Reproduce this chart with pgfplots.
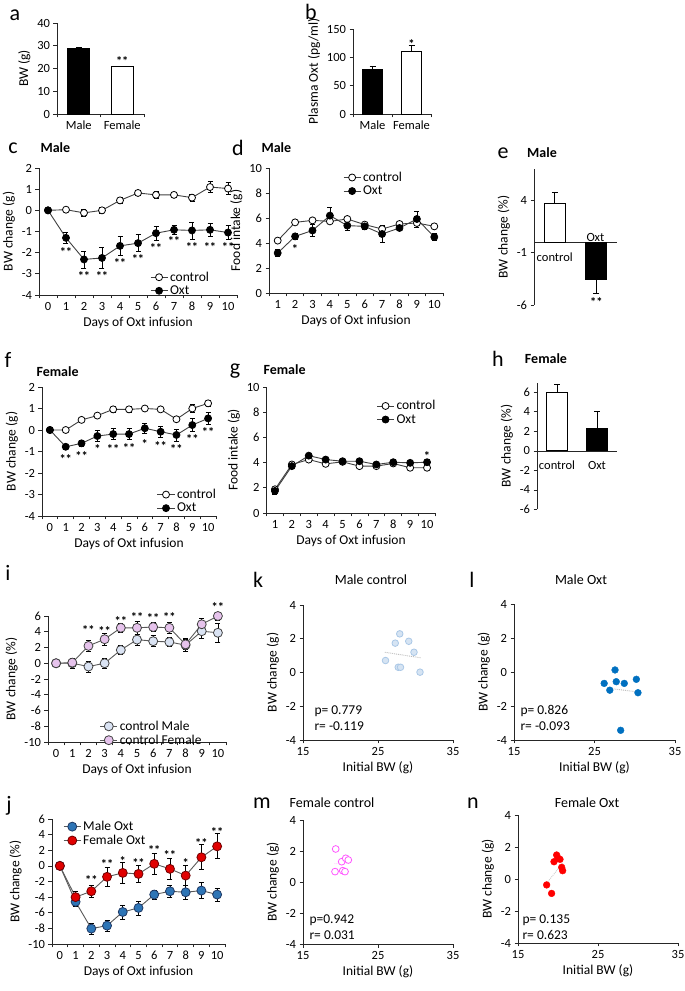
\documentclass[border=0pt]{standalone}
\usepackage{fontspec}
\setmainfont{Carlito}
\usepackage{pgfplots}
\pgfplotsset{compat=1.18}
\definecolor{axc}{HTML}{262626}
\definecolor{lc}{HTML}{404040}
\definecolor{lg}{HTML}{595959}
\definecolor{iM}{HTML}{DAE3F3}
\definecolor{iF}{HTML}{E6C3EC}
\definecolor{jM}{HTML}{2E75B6}
\definecolor{jMe}{HTML}{1F3864}
\definecolor{jF}{HTML}{E00000}
\definecolor{jFe}{HTML}{700000}
\definecolor{kF}{HTML}{D6E4F3}
\definecolor{kE}{HTML}{A9C7E6}
\definecolor{lB}{HTML}{0070C0}
\definecolor{mP}{HTML}{FF55FF}
\definecolor{nR}{HTML}{FF0000}
\newcommand\tks{\fontsize{12.5}{12.5}\selectfont}
\newcommand\lbs{\fontsize{13.5}{13.5}\selectfont}
\newcommand\sts{\fontsize{12.5}{12.5}\selectfont\bfseries}
\newcommand\ltr{\fontsize{22}{22}\selectfont}
\newcommand\ttl{\fontsize{14}{14}\selectfont}
\pgfplotsset{
 common/.style={scale only axis, anchor=south west, axis lines=left,
   axis line style={-, draw=axc, line width=0.7pt},
   tick style={draw=axc, line width=0.7pt}, tick align=outside,
   major tick length=3.5pt, minor tick length=3.5pt, enlargelimits=false, clip=false,
   tick label style={font=\tks}, label style={font=\lbs},
   /pgf/number format/assume math mode=true,
   legend style={draw=none, fill=none, font=\lbs, row sep=-1pt, inner sep=0pt},
   legend cell align=left},
 days/.style={xmin=-0.5, xmax=10.5, xtick={0,...,10}, minor xtick={-0.5,0.5,...,10.5},
   major x tick style={draw=none}, xlabel={Days of Oxt infusion}},
 daysone/.style={xmin=0.5, xmax=10.5, xtick={1,...,10}, minor xtick={0.5,1.5,...,10.5},
   major x tick style={draw=none}, xlabel={Days of Oxt infusion}},
 cattwo/.style={xmin=0.5, xmax=2.5, xtick={1,2}, xticklabels={Male,Female},
   minor xtick={0.5,1.5,2.5}, major x tick style={draw=none}},
 scat/.style={xmin=15, xmax=35, xtick={15,25,35}, ymin=-4, ymax=4, ytick={-4,-2,...,4},
   xlabel={Initial BW (g)}, ylabel={BW change (g)}},
 ebar/.style={error bars/.cd, y dir=both, y explicit,
   error bar style={black, line width=0.7pt},
   error mark options={rotate=90, mark size=2.5pt, black, line width=0.7pt}},
 ctrl/.style={color=lc, line width=0.9pt, mark=*, mark size=3.5pt,
   mark options={fill=white, draw=black, line width=0.8pt}, ebar},
 oxt/.style={color=lc, line width=0.9pt, mark=*, mark size=3.5pt,
   mark options={fill=black, draw=black, line width=0.8pt}, ebar},
 bigm/.style={color=lg, line width=0.9pt, mark=*, mark size=4.5pt,
   mark options={fill=#1, draw=lc, line width=0.8pt}, ebar},
 bbar/.style={ybar, bar shift=0pt, draw=black, line width=0.8pt, fill=#1,
   error bars/.cd, y dir=plus, y explicit, error bar style={black, line width=0.7pt},
   error mark options={rotate=90, mark size=3pt, black, line width=0.7pt}},
}
\tikzset{st/.style={font=\sts, inner sep=0pt, anchor=base, yshift=-7pt}}
\begin{document}
\begin{tikzpicture}
\useasboundingbox (0pt,0pt) rectangle (685pt,991pt);
% ---------- a
\begin{axis}[common, cattwo, at={(57pt,877pt)}, width=87pt, height=91pt,
  ymin=0, ymax=40, ytick={0,10,...,40}, ylabel={BW (g)}]
\addplot[bar width=22pt, bbar=black] coordinates {(1,28.8) +- (0,0.4)};
\addplot[bar width=22pt, bbar=white] coordinates {(2,20.7) +- (0,0.3)};
\node[st] at (axis cs:2,24.5) {**};
\end{axis}
% ---------- b
\begin{axis}[common, cattwo, at={(353pt,877pt)}, width=78pt, height=85pt,
  ymin=0, ymax=150, ytick={0,50,100,150}, ylabel={Plasma Oxt (pg/ml)}]
\addplot[bar width=20pt, bbar=black] coordinates {(1,78) +- (0,6)};
\addplot[bar width=20pt, bbar=white] coordinates {(2,110) +- (0,11)};
\node[st] at (axis cs:2,128) {*};
\end{axis}
% ---------- c
\begin{axis}[common, days, at={(39pt,696pt)}, width=198pt, height=127pt,
  ymin=-4, ymax=2, ytick={-4,...,2}, ylabel={BW change (g)},
  legend style={at={(0.56,0.2)}, anchor=north west}]
\addplot[ctrl] coordinates {(0,0) +- (0,0) (1,0.03) +- (0,0.08) (2,-0.12) +- (0,0.17)
 (3,0.0) +- (0,0.15) (4,0.47) +- (0,0.12) (5,0.82) +- (0,0.12) (6,0.73) +- (0,0.15)
 (7,0.73) +- (0,0.13) (8,0.6) +- (0,0.17) (9,1.1) +- (0,0.25) (10,1.03) +- (0,0.28)};
\addplot[oxt] coordinates {(0,0) +- (0,0) (1,-1.3) +- (0,0.25) (2,-2.32) +- (0,0.4)
 (3,-2.25) +- (0,0.5) (4,-1.68) +- (0,0.45) (5,-1.55) +- (0,0.4) (6,-1.08) +- (0,0.33)
 (7,-0.92) +- (0,0.2) (8,-0.95) +- (0,0.4) (9,-0.92) +- (0,0.3) (10,-1.05) +- (0,0.33)};
\legend{control, Oxt}
\node[st] at (axis cs:1,-1.85) {**};
\node[st] at (axis cs:2,-2.98) {**};
\node[st] at (axis cs:3,-2.98) {**};
\node[st] at (axis cs:4,-2.38) {**};
\node[st] at (axis cs:5,-2.2) {**};
\node[st] at (axis cs:6,-1.65) {**};
\node[st] at (axis cs:7,-1.35) {**};
\node[st] at (axis cs:8,-1.63) {**};
\node[st] at (axis cs:9,-1.63) {**};
\node[st] at (axis cs:10,-1.63) {**};
\end{axis}
% ---------- d
\begin{axis}[common, daysone, at={(269pt,698pt)}, width=174pt, height=125pt,
  ymin=0, ymax=10, ytick={0,2,...,10}, ylabel={Food intake (g)},
  legend style={at={(0.425,0.985)}, anchor=north west}]
\addplot[ctrl] coordinates {(1,4.19) +- (0,0.15) (2,5.65) +- (0,0.15) (3,5.81) +- (0,0.15)
 (4,5.73) +- (0,0.15) (5,5.92) +- (0,0.15) (6,5.47) +- (0,0.15) (7,5.12) +- (0,0.15)
 (8,5.52) +- (0,0.15) (9,5.6) +- (0,0.2) (10,5.33) +- (0,0.15)};
\addplot[oxt] coordinates {(1,3.2) +- (0,0.3) (2,4.53) +- (0,0.25) (3,5.0) +- (0,0.5)
 (4,6.19) +- (0,0.65) (5,5.39) +- (0,0.4) (6,5.33) +- (0,0.25) (7,4.72) +- (0,0.7)
 (8,5.2) +- (0,0.15) (9,5.92) +- (0,0.65) (10,4.48) +- (0,0.3)};
\legend{control, Oxt}
\node[st] at (axis cs:2,3.73) {*};
\end{axis}
% ---------- e
\begin{axis}[common, axis x line=middle, x axis line style={-}, at={(534pt,686pt)},
  width=83pt, height=136pt, xmin=0.5, xmax=2.5, ymin=-6, ymax=7, ytick={-6,-1,4},
  xtick=\empty, ylabel={BW change (\%)}]
\addplot[bar width=21pt, bbar=white] coordinates {(1,3.75) +- (0,1.0)};
\addplot[ybar, bar shift=0pt, bar width=21pt, draw=black, line width=0.8pt, fill=black,
  error bars/.cd, y dir=minus, y explicit, error bar style={black, line width=0.7pt},
  error mark options={rotate=90, mark size=3pt, black, line width=0.7pt}]
  coordinates {(2,-3.6) +- (0,1.3)};
\node[font=\tks] at (axis cs:1,-1.4) {control};
\node[font=\tks] at (axis cs:1.98,0.5) {Oxt};
\node[st] at (axis cs:2,-5.5) {**};
\end{axis}
% ---------- f
\begin{axis}[common, days, at={(42pt,475pt)}, width=174pt, height=129pt,
  ymin=-4, ymax=2, ytick={-4,...,2}, ylabel={BW change (g)},
  legend style={at={(0.66,0.225)}, anchor=north west}]
\addplot[ctrl] coordinates {(0,0) +- (0,0) (1,0.0) +- (0,0.06) (2,0.47) +- (0,0.08)
 (3,0.67) +- (0,0.1) (4,0.96) +- (0,0.12) (5,0.96) +- (0,0.12) (6,1.0) +- (0,0.1)
 (7,0.96) +- (0,0.1) (8,0.5) +- (0,0.1) (9,1.0) +- (0,0.17) (10,1.24) +- (0,0.13)};
\addplot[oxt] coordinates {(0,0) +- (0,0) (1,-0.78) +- (0,0.12) (2,-0.62) +- (0,0.15)
 (3,-0.28) +- (0,0.25) (4,-0.19) +- (0,0.25) (5,-0.19) +- (0,0.25) (6,0.08) +- (0,0.25)
 (7,-0.08) +- (0,0.25) (8,-0.23) +- (0,0.28) (9,0.23) +- (0,0.3) (10,0.54) +- (0,0.3)};
\legend{control, Oxt}
\node[st] at (axis cs:1,-1.24) {**};
\node[st] at (axis cs:2,-1.09) {**};
\node[st] at (axis cs:3,-0.78) {*};
\node[st] at (axis cs:4,-0.78) {**};
\node[st] at (axis cs:5,-0.7) {**};
\node[st] at (axis cs:6,-0.54) {*};
\node[st] at (axis cs:7,-0.62) {**};
\node[st] at (axis cs:8,-0.78) {**};
\node[st] at (axis cs:9,-0.31) {**};
\node[st] at (axis cs:10,0.0) {**};
\end{axis}
% ---------- g
\begin{axis}[common, daysone, at={(266.5pt,478pt)}, width=169pt, height=126pt,
  ymin=0, ymax=10, ytick={0,2,...,10}, ylabel={Food intake (g)},
  legend style={at={(0.65,0.91)}, anchor=north west}]
\addplot[ctrl] coordinates {(1,1.88) +- (0,0.15) (2,3.85) +- (0,0.15) (3,4.24) +- (0,0.15)
 (4,3.9) +- (0,0.12) (5,4.06) +- (0,0.12) (6,3.72) +- (0,0.12) (7,3.72) +- (0,0.12)
 (8,3.93) +- (0,0.12) (9,3.59) +- (0,0.12) (10,3.59) +- (0,0.12)};
\addplot[oxt] coordinates {(1,1.75) +- (0,0.25) (2,3.72) +- (0,0.2) (3,4.55) +- (0,0.2)
 (4,4.24) +- (0,0.15) (5,4.11) +- (0,0.15) (6,4.11) +- (0,0.2) (7,3.85) +- (0,0.2)
 (8,4.03) +- (0,0.2) (9,3.98) +- (0,0.15) (10,4.03) +- (0,0.2)};
\legend{control, Oxt}
\node[st] at (axis cs:10,4.76) {*};
\end{axis}
% ---------- h
\begin{axis}[common, axis x line=middle, x axis line style={-}, at={(537pt,481.5pt)},
  width=80pt, height=127pt, xmin=0.5, xmax=2.5, ymin=-6, ymax=7, ytick={-6,-4,...,6},
  xtick=\empty, ylabel={BW change (\%)}]
\addplot[bar width=21pt, bbar=white] coordinates {(1,5.95) +- (0,0.85)};
\addplot[bar width=21pt, bbar=black] coordinates {(2,2.35) +- (0,1.65)};
\node[font=\tks] at (axis cs:1,-1.45) {control};
\node[font=\tks] at (axis cs:2,-1.45) {Oxt};
\end{axis}
% ---------- i
\begin{axis}[common, days, at={(48pt,249pt)}, width=178pt, height=126pt,
  ymin=-10, ymax=6, ytick={-10,-8,...,6}, ylabel={BW change (\%)},
  legend style={at={(0.29,0.185)}, anchor=north west}]
\addplot[bigm=iM] coordinates {(0,0) +- (0,0) (1,0) +- (0,0.6) (2,-0.42) +- (0,0.7)
 (3,0) +- (0,0.6) (4,1.68) +- (0,0.6) (5,3.0) +- (0,0.7) (6,2.8) +- (0,0.7)
 (7,2.7) +- (0,0.6) (8,2.3) +- (0,0.8) (9,4.07) +- (0,0.9) (10,3.87) +- (0,1.2)};
\addplot[bigm=iF] coordinates {(0,0) +- (0,0) (1,0.08) +- (0,0.3) (2,2.2) +- (0,0.7)
 (3,3.05) +- (0,0.8) (4,4.5) +- (0,0.6) (5,4.5) +- (0,0.8) (6,4.6) +- (0,0.6)
 (7,4.5) +- (0,0.7) (8,2.4) +- (0,0.6) (9,4.95) +- (0,0.8) (10,6.0) +- (0,0.5)};
\legend{control Male, control Female}
\node[st] at (axis cs:2,4.6) {**};
\node[st] at (axis cs:3,4.4) {**};
\node[st] at (axis cs:4,5.67) {**};
\node[st] at (axis cs:5,6.2) {**};
\node[st] at (axis cs:6,6.0) {**};
\node[st] at (axis cs:7,6.2) {**};
\node[st] at (axis cs:10,7.5) {**};
\end{axis}
% ---------- j
\begin{axis}[common, days, at={(52pt,47pt)}, width=173pt, height=125pt,
  ymin=-10, ymax=6, ytick={-10,-8,...,6}, ylabel={BW change (\%)},
  legend style={at={(0.064,1.0)}, anchor=north west}]
\addplot[color=lg, line width=0.9pt, mark=*, mark size=4.5pt,
   mark options={fill=jM, draw=jMe, line width=0.8pt}, ebar]
 coordinates {(0,0) +- (0,0) (1,-4.6) +- (0,0.6) (2,-8.03) +- (0,0.7)
 (3,-7.65) +- (0,0.7) (4,-5.9) +- (0,0.9) (5,-5.38) +- (0,0.9) (6,-3.67) +- (0,0.6)
 (7,-3.25) +- (0,0.8) (8,-3.38) +- (0,0.9) (9,-3.16) +- (0,1.0) (10,-3.67) +- (0,0.85)};
\addplot[color=lg, line width=0.9pt, mark=*, mark size=4.5pt,
   mark options={fill=jF, draw=jFe, line width=0.8pt}, ebar]
 coordinates {(0,0) +- (0,0) (1,-4.0) +- (0,0.7) (2,-3.25) +- (0,0.8)
 (3,-1.4) +- (0,1.2) (4,-0.9) +- (0,1.3) (5,-1.03) +- (0,1.1) (6,0.26) +- (0,1.3)
 (7,-0.38) +- (0,1.3) (8,-1.24) +- (0,1.3) (9,1.1) +- (0,1.6) (10,2.5) +- (0,1.6)};
\legend{Male Oxt, Female Oxt}
\node[st] at (axis cs:2,-1.45) {**};
\node[st] at (axis cs:3,0.6) {**};
\node[st] at (axis cs:4,0.94) {*};
\node[st] at (axis cs:5,0.68) {**};
\node[st] at (axis cs:6,2.4) {**};
\node[st] at (axis cs:7,1.75) {**};
\node[st] at (axis cs:8,0.73) {*};
\node[st] at (axis cs:9,3.2) {**};
\node[st] at (axis cs:10,4.7) {**};
\end{axis}
% ---------- k
\begin{axis}[common, scat, at={(303pt,251pt)}, width=150pt, height=135pt]
\addplot[densely dotted, color=gray!55, line width=0.9pt] coordinates {(25.9,1.2) (30.7,0.87)};
\addplot[only marks, mark=*, mark size=3.3pt, mark options={fill=kF, draw=kE, line width=0.8pt}]
 coordinates {(27.9,2.29) (27.3,1.74) (29.1,1.85) (29.8,1.2) (26.0,0.71) (27.7,0.31) (28.0,0.31) (30.6,0.02)};
\end{axis}
% ---------- l
\begin{axis}[common, scat, at={(514pt,251pt)}, width=161pt, height=136pt]
\addplot[densely dotted, color=gray!55, line width=0.9pt] coordinates {(26.9,-0.97) (30.2,-1.16)};
\addplot[only marks, mark=*, mark size=3.4pt, mark options={fill=lB, draw=lB}]
 coordinates {(27.55,0.12) (26.2,-0.67) (27.7,-0.57) (28.7,-0.67) (30.2,-0.43) (26.9,-1.07) (30.4,-1.22) (28.25,-3.43)};
\end{axis}
% ---------- m
\begin{axis}[common, scat, at={(303pt,47pt)}, width=150pt, height=124pt]
\addplot[densely dotted, color=mP!30, line width=0.9pt] coordinates {(19.2,1.18) (21.1,1.22)};
\addplot[only marks, mark=*, mark size=3.4pt, mark options={fill=white, draw=mP, line width=0.8pt}]
 coordinates {(19.36,2.13) (19.27,0.67) (20.16,1.31) (20.7,1.53) (21.04,1.42) (20.3,0.73) (20.6,0.67)};
\end{axis}
% ---------- n
\begin{axis}[common, scat, at={(518pt,48pt)}, width=160pt, height=128pt]
\addplot[densely dotted, color=gray!40, line width=0.9pt] coordinates {(18.6,-0.25) (20.6,1.0)};
\addplot[only marks, mark=*, mark size=3.4pt, mark options={fill=nR, draw=nR}]
 coordinates {(19.83,1.5) (19.5,1.08) (20.25,1.23) (20.46,0.73) (20.58,0.52) (18.58,-0.37) (19.2,-0.9) (20.0,1.3)};
\end{axis}
% ---------- letters and titles
\node[font=\ltr] at (15pt,976pt) {a};
\node[font=\ltr] at (311pt,979pt) {b};
\node[font=\ltr] at (13pt,843pt) {c};
\node[font=\ttl\bfseries, anchor=west] at (37pt,843pt) {Male};
\node[font=\ltr] at (238pt,843pt) {d};
\node[font=\ttl\bfseries, anchor=west] at (258pt,843pt) {Male};
\node[font=\ltr] at (503pt,838pt) {e};
\node[font=\ttl\bfseries] at (542pt,838pt) {Male};
\node[font=\ltr] at (8pt,631pt) {f};
\node[font=\ttl\bfseries, anchor=west] at (33pt,619pt) {Female};
\node[font=\ltr] at (235pt,620pt) {g};
\node[font=\ttl\bfseries, anchor=west] at (260pt,621pt) {Female};
\node[font=\ltr] at (498pt,632pt) {h};
\node[font=\ttl\bfseries] at (546pt,632pt) {Female};
\node[font=\ltr] at (8pt,418pt) {i};
\node[font=\ltr] at (9pt,185pt) {j};
\node[font=\ltr] at (258pt,411pt) {k};
\node[font=\ttl] at (371pt,411pt) {Male control};
\node[font=\ltr] at (472pt,411pt) {l};
\node[font=\ttl] at (581pt,411pt) {Male Oxt};
\node[font=\ltr] at (262pt,188pt) {m};
\node[font=\ttl] at (332pt,188pt) {Female control};
\node[font=\ltr] at (473pt,188pt) {n};
\node[font=\ttl] at (587pt,188pt) {Female Oxt};
\node[font=\lbs, anchor=west] at (311pt,280pt) {p= 0.779};
\node[font=\lbs, anchor=west] at (311pt,265pt) {r= -0.119};
\node[font=\lbs, anchor=west] at (517pt,280pt) {p= 0.826};
\node[font=\lbs, anchor=west] at (517pt,265pt) {r= -0.093};
\node[font=\lbs, anchor=west] at (306pt,71pt) {p=0.942};
\node[font=\lbs, anchor=west] at (306pt,56pt) {r= 0.031};
\node[font=\lbs, anchor=west] at (519pt,71pt) {p= 0.135};
\node[font=\lbs, anchor=west] at (519pt,56pt) {r= 0.623};
\end{tikzpicture}
\end{document}
